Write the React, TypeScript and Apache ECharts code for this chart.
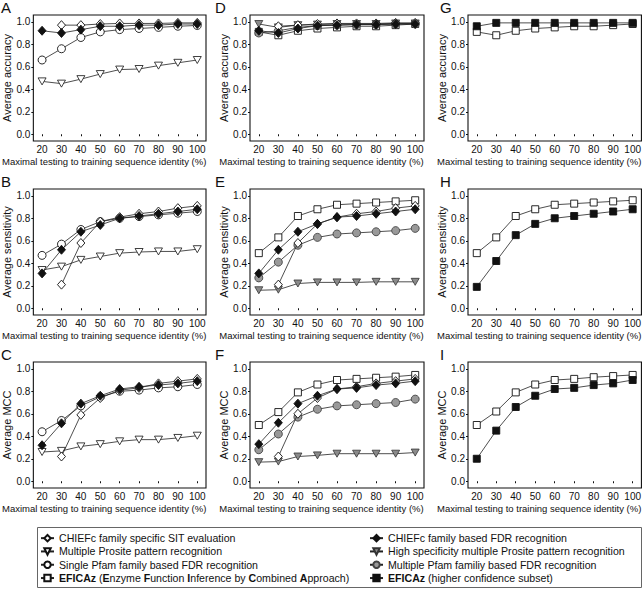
import React, { useEffect, useRef } from "react";
import * as echarts from "echarts";

// ---------- data ----------
const xValues = [20, 30, 40, 50, 60, 70, 80, 90, 100];
const yTickValues = [0, 0.2, 0.4, 0.6, 0.8, 1.0];
const panelLetters = ["A", "B", "C", "D", "E", "F", "G", "H", "I"];
const yAxisNames = ["Average accuracy", "Average sensitivity", "Average MCC"];
const xAxisName = "Maximal testing to training sequence identity (%)";

const N_SIT = "CHIEFc family specific SIT evaluation";
const N_MPS = "Multiple Prosite pattern recognition";
const N_SPF = "Single Pfam family based FDR recognition";
const N_EF = "EFICAz (Enzyme Function Inference by Combined Approach)";
const N_FDR = "CHIEFc family based FDR recognition";
const N_HSP = "High specificity multiple Prosite pattern recognition";
const N_MPF = "Multiple Pfam familiy based FDR recognition";
const N_EFH = "EFICAz (higher confidence subset)";

// Panel A – accuracy
const accSIT_A = [null, 0.97, 0.97, 0.98, 0.985, 0.985, 0.985, 0.99, 0.99];
const accFDR_A = [0.92, 0.9, 0.93, 0.96, 0.96, 0.97, 0.97, 0.98, 0.98];
const accSPF_A = [0.66, 0.76, 0.86, 0.91, 0.93, 0.94, 0.95, 0.96, 0.967];
const accMPS_A = [0.47, 0.45, 0.49, 0.535, 0.575, 0.58, 0.61, 0.635, 0.66];
// Panel B – sensitivity
const senSIT_B = [null, 0.21, 0.58, 0.77, 0.81, 0.84, 0.86, 0.89, 0.91];
const senFDR_B = [0.31, 0.52, 0.68, 0.74, 0.8, 0.82, 0.84, 0.86, 0.88];
const senSPF_B = [0.47, 0.57, 0.7, 0.77, 0.8, 0.815, 0.83, 0.845, 0.86];
const senMPS_B = [0.34, 0.37, 0.43, 0.46, 0.49, 0.5, 0.505, 0.505, 0.525];
// Panel C – MCC
const mccSIT_C = [null, 0.22, 0.59, 0.74, 0.81, 0.83, 0.87, 0.89, 0.91];
const mccFDR_C = [0.32, 0.515, 0.69, 0.76, 0.82, 0.84, 0.855, 0.87, 0.89];
const mccSPF_C = [0.44, 0.54, 0.67, 0.75, 0.8, 0.81, 0.83, 0.84, 0.86];
const mccMPS_C = [0.26, 0.27, 0.31, 0.33, 0.355, 0.37, 0.37, 0.385, 0.405];
// Panel D – accuracy
const accSIT_D = [null, 0.96, 0.97, 0.98, 0.985, 0.985, 0.985, 0.99, 0.99];
const accFDR_D = [0.92, 0.9, 0.94, 0.965, 0.97, 0.975, 0.975, 0.98, 0.98];
const accHSP_D = [0.98, 0.95, 0.97, 0.975, 0.98, 0.98, 0.98, 0.985, 0.985];
const accMPF_D = [0.9, 0.92, 0.95, 0.965, 0.97, 0.975, 0.975, 0.98, 0.98];
const accEF_D = [0.91, 0.88, 0.92, 0.94, 0.95, 0.96, 0.96, 0.97, 0.98];
// Panel E – sensitivity
const senSIT_E = [null, 0.21, 0.58, 0.75, 0.81, 0.84, 0.86, 0.89, 0.91];
const senFDR_E = [0.31, 0.52, 0.68, 0.75, 0.81, 0.82, 0.84, 0.86, 0.88];
const senHSP_E = [0.16, 0.165, 0.22, 0.23, 0.23, 0.23, 0.235, 0.235, 0.235];
const senMPF_E = [0.27, 0.41, 0.56, 0.63, 0.66, 0.67, 0.68, 0.69, 0.71];
const senEF_E = [0.49, 0.63, 0.82, 0.88, 0.92, 0.93, 0.94, 0.95, 0.96];
// Panel F – MCC
const mccSIT_F = [null, 0.22, 0.6, 0.74, 0.82, 0.84, 0.87, 0.89, 0.91];
const mccFDR_F = [0.33, 0.52, 0.69, 0.76, 0.82, 0.83, 0.855, 0.87, 0.89];
const mccHSP_F = [0.17, 0.175, 0.22, 0.23, 0.245, 0.245, 0.245, 0.245, 0.255];
const mccMPF_F = [0.28, 0.42, 0.57, 0.64, 0.67, 0.68, 0.69, 0.7, 0.73];
const mccEF_F = [0.5, 0.615, 0.79, 0.86, 0.9, 0.91, 0.92, 0.93, 0.945];
// Panel G – accuracy
const accEF_G = [0.91, 0.88, 0.92, 0.94, 0.95, 0.96, 0.96, 0.97, 0.98];
const accEFH_G = [0.96, 0.99, 0.99, 0.99, 0.99, 0.99, 0.99, 0.99, 0.99];
// Panel H – sensitivity
const senEF_H = [0.49, 0.63, 0.82, 0.88, 0.92, 0.93, 0.94, 0.95, 0.96];
const senEFH_H = [0.19, 0.42, 0.65, 0.75, 0.8, 0.82, 0.84, 0.86, 0.88];
// Panel I – MCC
const mccEF_I = [0.5, 0.62, 0.79, 0.86, 0.9, 0.91, 0.925, 0.935, 0.945];
const mccEFH_I = [0.2, 0.45, 0.66, 0.76, 0.82, 0.83, 0.855, 0.87, 0.9];

// ---------- layout / style ----------
const FONT = 'Arial, "Liberation Sans", Helvetica, sans-serif';
const colLeft = [32, 250, 468];
const rowTop = [15, 189, 362];
const GW = 174;
const GH = 126;
const TRI = "path://M0,0L10,0L5,9Z";
const LEG_FS = 10.6;

const styles: Record<string, any> = {
  [N_SIT]: { symbol: "diamond", symbolSize: [8, 9], itemStyle: { color: "#fff", borderColor: "#111", borderWidth: 0.9 }, z: 6 },
  [N_FDR]: { symbol: "diamond", symbolSize: [8, 9], itemStyle: { color: "#111", borderColor: "#111", borderWidth: 0.9 }, z: 7 },
  [N_SPF]: { symbol: "circle", symbolSize: 8, itemStyle: { color: "#fff", borderColor: "#111", borderWidth: 0.9 }, z: 5 },
  [N_MPS]: { symbol: TRI, symbolSize: [8, 7], itemStyle: { color: "#fff", borderColor: "#111", borderWidth: 0.8 }, z: 4 },
  [N_HSP]: { symbol: TRI, symbolSize: [8, 7], itemStyle: { color: "#8a8a8a", borderColor: "#333", borderWidth: 0.8 }, z: 4 },
  [N_MPF]: { symbol: "circle", symbolSize: 8, itemStyle: { color: "#999", borderColor: "#444", borderWidth: 0.9 }, z: 5 },
  [N_EF]: { symbol: "rect", symbolSize: 7, itemStyle: { color: "#fff", borderColor: "#111", borderWidth: 0.9 }, z: 3 },
  [N_EFH]: { symbol: "rect", symbolSize: 7, itemStyle: { color: "#111", borderColor: "#111", borderWidth: 0.9 }, z: 8 },
};

const panels: { series: [string, (number | null)[]][] }[] = [
  { series: [[N_MPS, accMPS_A], [N_SPF, accSPF_A], [N_SIT, accSIT_A], [N_FDR, accFDR_A]] },
  { series: [[N_MPS, senMPS_B], [N_SPF, senSPF_B], [N_SIT, senSIT_B], [N_FDR, senFDR_B]] },
  { series: [[N_MPS, mccMPS_C], [N_SPF, mccSPF_C], [N_SIT, mccSIT_C], [N_FDR, mccFDR_C]] },
  { series: [[N_EF, accEF_D], [N_HSP, accHSP_D], [N_MPF, accMPF_D], [N_SIT, accSIT_D], [N_FDR, accFDR_D]] },
  { series: [[N_EF, senEF_E], [N_HSP, senHSP_E], [N_MPF, senMPF_E], [N_SIT, senSIT_E], [N_FDR, senFDR_E]] },
  { series: [[N_EF, mccEF_F], [N_HSP, mccHSP_F], [N_MPF, mccMPF_F], [N_SIT, mccSIT_F], [N_FDR, mccFDR_F]] },
  { series: [[N_EF, accEF_G], [N_EFH, accEFH_G]] },
  { series: [[N_EF, senEF_H], [N_EFH, senEFH_H]] },
  { series: [[N_EF, mccEF_I], [N_EFH, mccEFH_I]] },
];

function legendFormatter(name: string) {
  if (name === N_EF)
    return "{b|EFICAz}{n| (}{b|E}{n|nzyme }{b|F}{n|unction }{b|I}{n|nference by }{b|C}{n|ombined }{b|A}{n|pproach)}";
  if (name === N_EFH) return "{b|EFICAz}{n| (higher confidence subset)}";
  return "{n|" + name + "}";
}

function buildOption() {
  const grids: any[] = [];
  const xAxes: any[] = [];
  const yAxes: any[] = [];
  const series: any[] = [];
  const graphics: any[] = [];

  panels.forEach((p, i) => {
    const col = Math.floor(i / 3);
    const row = i % 3;
    grids.push({
      left: colLeft[col],
      top: rowTop[row],
      width: GW,
      height: GH,
      show: true,
      borderColor: "#111",
      borderWidth: 1.1,
      backgroundColor: "transparent",
      containLabel: false,
    });
    xAxes.push({
      type: "value",
      gridIndex: i,
      min: 15.5,
      max: 104.5,
      name: xAxisName,
      nameLocation: "middle",
      nameGap: 15,
      nameTextStyle: { fontSize: 9.5, color: "#111", fontFamily: FONT, padding: [0, 31, 0, 0] },
      axisLine: { show: false },
      splitLine: { show: false },
      axisTick: { show: true, length: 2, inside: false, lineStyle: { color: "#111" }, customValues: xValues },
      axisLabel: { fontSize: 10, color: "#111", fontFamily: FONT, margin: 3, customValues: xValues, formatter: (v: number) => String(Math.round(v)) },
    });
    yAxes.push({
      type: "value",
      gridIndex: i,
      min: -0.06,
      max: 1.06,
      name: yAxisNames[row],
      nameLocation: "middle",
      nameGap: 18,
      nameTextStyle: { fontSize: 11, color: "#111", fontFamily: FONT },
      axisLine: { show: false },
      splitLine: { show: false },
      axisTick: { show: true, length: 2, inside: false, lineStyle: { color: "#111" }, customValues: yTickValues },
      axisLabel: { fontSize: 10, color: "#111", fontFamily: FONT, margin: 3, customValues: yTickValues, formatter: (v: number) => v.toFixed(1) },
    });
    p.series.forEach(([name, vals]) => {
      const st = styles[name];
      const data = xValues
        .map((x, k) => [x, vals[k]])
        .filter((d) => d[1] !== null && d[1] !== undefined);
      series.push({
        type: "line",
        name,
        xAxisIndex: i,
        yAxisIndex: i,
        data,
        symbol: st.symbol,
        symbolSize: st.symbolSize,
        showSymbol: true,
        itemStyle: st.itemStyle,
        lineStyle: { color: "#222", width: 0.8 },
        z: st.z,
        silent: true,
      });
    });
    graphics.push({
      type: "text",
      left: [1, 215, 440][col],
      top: row === 0 ? 0 : rowTop[row] - 15,
      style: { text: panelLetters[i], fontSize: 15, fill: "#111", fontFamily: FONT },
    });
  });

  graphics.push({
    type: "rect",
    shape: { x: 37.5, y: 527.5, width: 604, height: 60 },
    style: { fill: "none", stroke: "#666", lineWidth: 1 },
    silent: true,
  });

  const legendBase = {
    orient: "vertical",
    top: 531.5,
    itemWidth: 13,
    itemHeight: 8,
    itemGap: 0,
    padding: 0,
    selectedMode: false,
    formatter: legendFormatter,
    textStyle: {
      fontSize: LEG_FS,
      lineHeight: 13.3,
      color: "#111",
      fontFamily: FONT,
      rich: {
        b: { fontWeight: "bold", fontSize: LEG_FS, lineHeight: 13.3, fontFamily: FONT, color: "#111" },
        n: { fontWeight: "normal", fontSize: LEG_FS, lineHeight: 13.3, fontFamily: FONT, color: "#111" },
      },
    },
  };

  return {
    animation: false,
    backgroundColor: "#fff",
    grid: grids,
    xAxis: xAxes,
    yAxis: yAxes,
    series,
    graphic: graphics,
    legend: [
      { ...legendBase, left: 40, data: [N_SIT, N_MPS, N_SPF, N_EF] },
      { ...legendBase, left: 369, data: [N_FDR, N_HSP, N_MPF, N_EFH] },
    ],
  };
}

export default function App() {
  const ref = useRef<HTMLDivElement>(null);
  useEffect(() => {
    if (!ref.current) return;
    const chart = echarts.init(ref.current, undefined, { renderer: "svg" });
    chart.setOption(buildOption() as any);
    return () => chart.dispose();
  }, []);
  return (
    <div
      ref={ref}
      style={{ position: "fixed", left: 0, top: 0, width: 644, height: 589, background: "#fff" }}
    />
  );
}
